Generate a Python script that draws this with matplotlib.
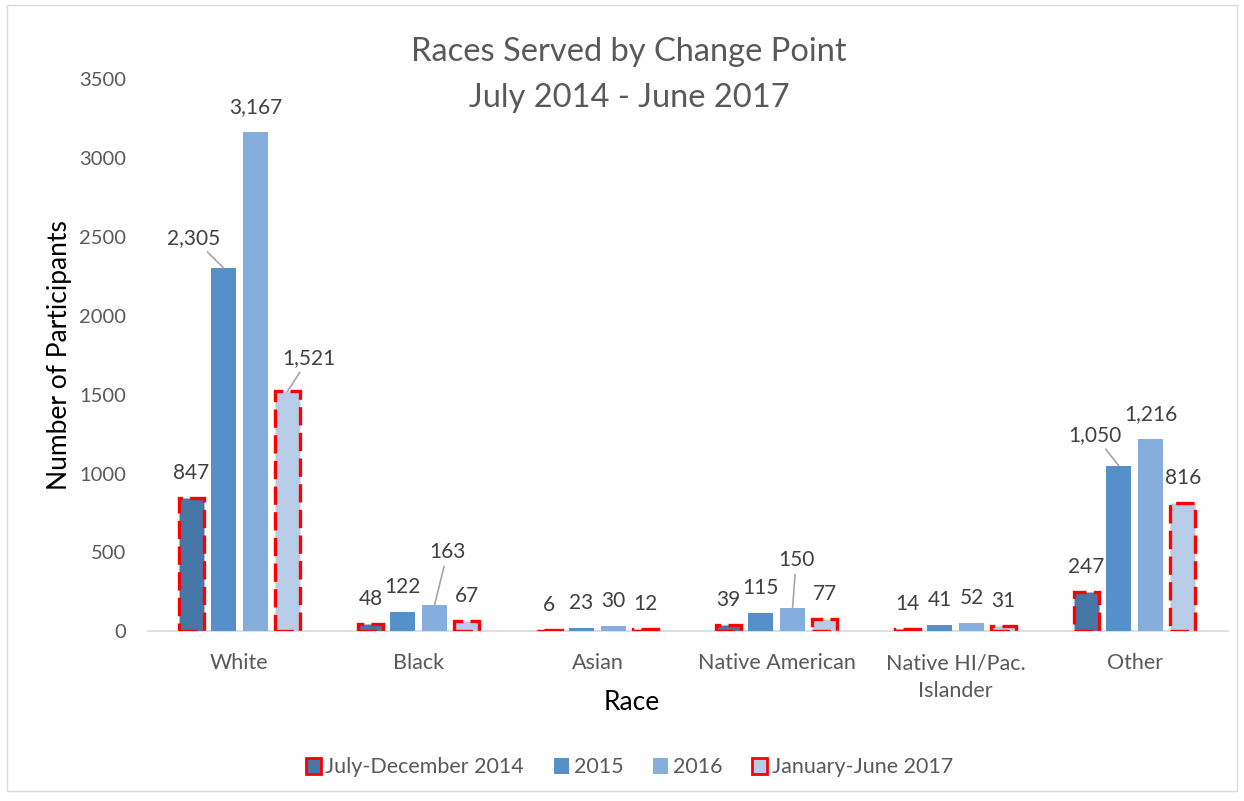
import matplotlib
matplotlib.use("Agg")
import matplotlib.pyplot as plt
import matplotlib.patches as mpatches
import numpy as np

plt.rcParams["font.family"] = ["Lato", "DejaVu Sans"]

races = ["White", "Black", "Asian", "Native American", "Native HI/Pac.\nIslander", "Other"]
series_names = ["July-December 2014", "2015", "2016", "January-June 2017"]
jul_dec_2014 = [847, 48, 6, 39, 14, 247]
y2015 = [2305, 122, 23, 115, 41, 1050]
y2016 = [3167, 163, 30, 150, 52, 1216]
jan_jun_2017 = [1521, 67, 12, 77, 31, 816]
series = [jul_dec_2014, y2015, y2016, jan_jun_2017]
colors = ["#4777A6", "#5590C8", "#86AEDC", "#B7CCE6"]
dashed = [True, False, False, True]

# labels Excel moved off the bar: (series, category) -> (dx in category units, label y)
moved = {(1, 0): (-0.166, 2492), (3, 0): (0.12, 1731), (2, 1): (0.073, 501),
         (2, 3): (0.02, 450), (1, 5): (-0.134, 1243)}

fig = plt.figure(figsize=(12.44, 8.01), dpi=100, facecolor="white")
fig.patches.append(mpatches.Rectangle((0.006, 0.012), 0.988, 0.982, transform=fig.transFigure,
                                      fill=False, edgecolor="#D9D9D9", linewidth=1))
ax = fig.add_axes([0.119, 0.212, 0.868, 0.689])

x = np.arange(len(races))
step, width = 0.179, 0.14
offsets = [-1.5 * step, -0.5 * step, 0.5 * step, 1.5 * step]
for i, (vals, c) in enumerate(zip(series, colors)):
    xs = x + offsets[i]
    if dashed[i]:
        ax.bar(xs, vals, width=width, color=c, edgecolor="#FF0000", linewidth=2.4,
               linestyle=(0, (5.5, 2.2)), label=series_names[i], zorder=3)
    else:
        ax.bar(xs, vals, width=width, color=c, edgecolor="none", label=series_names[i], zorder=3)
    for j, v in enumerate(vals):
        if (i, j) in moved:
            dx, ly = moved[(i, j)]
            ax.annotate(f"{v:,}", xy=(xs[j], v), xytext=(xs[j] + dx, ly), ha="center", va="center",
                        fontsize=15, color="#404040",
                        arrowprops=dict(arrowstyle="-", color="#A6A6A6", lw=1.2,
                                        shrinkA=1, shrinkB=0))
        else:
            ax.annotate(f"{v:,}", xy=(xs[j], v), xytext=(0, 18), textcoords="offset points",
                        ha="center", va="center", fontsize=15, color="#404040")

ax.set_xlim(-0.51, 5.52)
ax.set_ylim(0, 3500)
ax.set_yticks(np.arange(0, 3501, 500))
ax.set_xticks(x)
ax.set_xticklabels(races, fontsize=15.5, color="#595959", linespacing=1.45)
ax.tick_params(axis="y", labelsize=14.5, labelcolor="#595959", length=0, pad=16)
ax.tick_params(axis="x", length=0, pad=16)
for s in ["top", "right", "left"]:
    ax.spines[s].set_visible(False)
ax.spines["bottom"].set_color("#D9D9D9")
ax.spines["bottom"].set_linewidth(1.2)

ax.set_ylabel("Number of Participants", fontsize=19, color="black", labelpad=5)
ax.set_xlabel("Race", fontsize=19, color="black", va="center")
ax.xaxis.set_label_coords(0.448, -0.1286)
fig.text(0.5056, 0.935, "Races Served by Change Point", ha="center", va="center",
         fontsize=23.5, color="#595959")
fig.text(0.5056, 0.878, "July 2014 - June 2017", ha="center", va="center",
         fontsize=23.5, color="#595959")

leg = fig.legend(loc="center", bbox_to_anchor=(0.506, 0.042), ncol=4, frameon=False, fontsize=15.5,
                 handlelength=0.7, handleheight=0.8, handletextpad=0.2, columnspacing=1.4,
                 labelcolor="#595959")
for h, d in zip(leg.legend_handles, dashed):
    if d:
        h.set_linestyle("-")
        h.set_linewidth(2)

fig.savefig("out.png", dpi=100, facecolor="white")
